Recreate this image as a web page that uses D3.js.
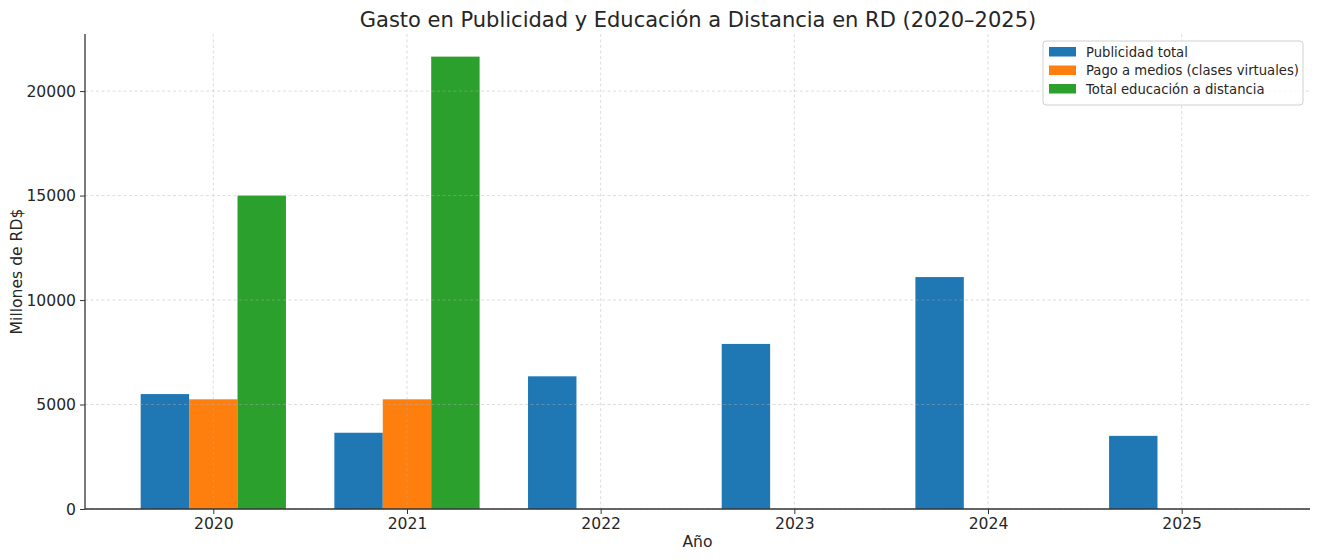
<!DOCTYPE html>
<html>
<head>
<meta charset="utf-8">
<script src="https://cdn.jsdelivr.net/npm/d3@7"></script>
<style>
  body { margin: 0; background: #fff; }
  text { font-family: "DejaVu Sans", sans-serif; fill: #262626; }
</style>
</head>
<body>
<div id="chart"></div>
<script>
// data
var years = [2020, 2021, 2022, 2023, 2024, 2025];
var seriesNames = ["Publicidad total", "Pago a medios (clases virtuales)", "Total educación a distancia"];
var publicidad = [5500, 3650, 6350, 7900, 11100, 3500];
var pagoMedios = [5250, 5250, null, null, null, null];
var totalEducacion = [15000, 21650, null, null, null, null];
var yTicks = [0, 5000, 10000, 15000, 20000];
var colors = ["#1f77b4", "#ff7f0e", "#2ca02c"];

var width = 1319, height = 560;
var margin = { left: 85, right: 9, top: 34, bottom: 51 };
var plotW = width - margin.left - margin.right;
var plotH = height - margin.top - margin.bottom;
var barW = 0.25;

var allSeries = [publicidad, pagoMedios, totalEducacion];

var svg = d3.select("#chart")
	.append("svg")
	.attr("width", width)
	.attr("height", height);

// x is linear in "year units", like matplotlib with offset bars
var xMin = years[0] - 1.5 * barW, xMax = years[years.length - 1] + 1.5 * barW;
var pad = (xMax - xMin) * 0.05;
var x = d3.scaleLinear()
	.domain([xMin - pad, xMax + pad])
	.range([margin.left, margin.left + plotW]);

var yMax = d3.max(allSeries.flat()) * 1.05;
var y = d3.scaleLinear()
	.domain([0, yMax])
	.range([margin.top + plotH, margin.top]);

// bars
allSeries.forEach(function(series, i) {
	svg.append("g")
		.selectAll("rect")
		.data(years.map((yr, j) => ({ year: yr, value: series[j] })).filter(d => d.value != null))
		.enter()
		.append("rect")
		.attr("x", d => x(d.year + (i - 1) * barW - barW / 2))
		.attr("width", d => x(d.year + barW) - x(d.year))
		.attr("y", d => y(d.value))
		.attr("height", d => y(0) - y(d.value))
		.attr("fill", colors[i]);
});

// grid, drawn over the bars
var grid = svg.append("g")
	.attr("stroke", "#b0b0b0")
	.attr("stroke-opacity", 0.55)
	.attr("stroke-width", 0.8)
	.attr("stroke-dasharray", "3,2.5");

grid.selectAll(".vg")
	.data(years)
	.enter()
	.append("line")
	.attr("x1", d => x(d)).attr("x2", d => x(d))
	.attr("y1", margin.top).attr("y2", margin.top + plotH);

grid.selectAll(".hg")
	.data(yTicks)
	.enter()
	.append("line")
	.attr("x1", margin.left).attr("x2", margin.left + plotW)
	.attr("y1", d => y(d)).attr("y2", d => y(d));

// x axis
var xAxis = svg.append("g")
	.attr("transform", "translate(0," + (margin.top + plotH) + ")")
	.call(d3.axisBottom(x).tickValues(years).tickFormat(d3.format("d")).tickSize(5).tickPadding(4));

// y axis
var yAxis = svg.append("g")
	.attr("transform", "translate(" + margin.left + ",0)")
	.call(d3.axisLeft(y).tickValues(yTicks).tickFormat(d3.format("d")).tickSize(5).tickPadding(4));

[xAxis, yAxis].forEach(function(ax) {
	ax.select(".domain").attr("stroke", "#333").attr("stroke-width", 1.3);
	ax.selectAll(".tick line").attr("stroke", "#333").attr("stroke-width", 1);
	ax.selectAll("text").attr("font-size", 15.6).attr("font-family", "DejaVu Sans").attr("fill", "#262626");
});
// only keep the spine, no end ticks beyond the plot
xAxis.select(".domain").attr("d", "M" + margin.left + ",0H" + (margin.left + plotW));
yAxis.select(".domain").attr("d", "M0," + (margin.top + plotH) + "V" + margin.top);

// title and labels
svg.append("text")
	.attr("x", margin.left + plotW / 2 + 0.5)
	.attr("y", 27)
	.attr("text-anchor", "middle")
	.attr("font-size", 21)
	.text("Gasto en Publicidad y Educación a Distancia en RD (2020–2025)");

svg.append("text")
	.attr("x", margin.left + plotW / 2)
	.attr("y", 547)
	.attr("text-anchor", "middle")
	.attr("font-size", 15.6)
	.text("Año");

svg.append("text")
	.attr("transform", "translate(22," + (margin.top + plotH / 2) + ") rotate(-90)")
	.attr("text-anchor", "middle")
	.attr("font-size", 15.6)
	.text("Millones de RD$");

// legend
var legend = svg.append("g")
	.attr("transform", "translate(1043,41)");

legend.append("rect")
	.attr("width", 260)
	.attr("height", 64)
	.attr("rx", 3)
	.attr("fill", "#fff")
	.attr("fill-opacity", 0.8)
	.attr("stroke", "#d0d0d0");

seriesNames.forEach(function(name, i) {
	legend.append("rect")
		.attr("x", 6)
		.attr("y", 6 + i * 18.5)
		.attr("width", 27)
		.attr("height", 9.5)
		.attr("fill", colors[i]);
	legend.append("text")
		.attr("x", 43)
		.attr("y", 15.5 + i * 18.5)
		.attr("font-size", 13.2)
		.text(name);
});
</script>
</body>
</html>
